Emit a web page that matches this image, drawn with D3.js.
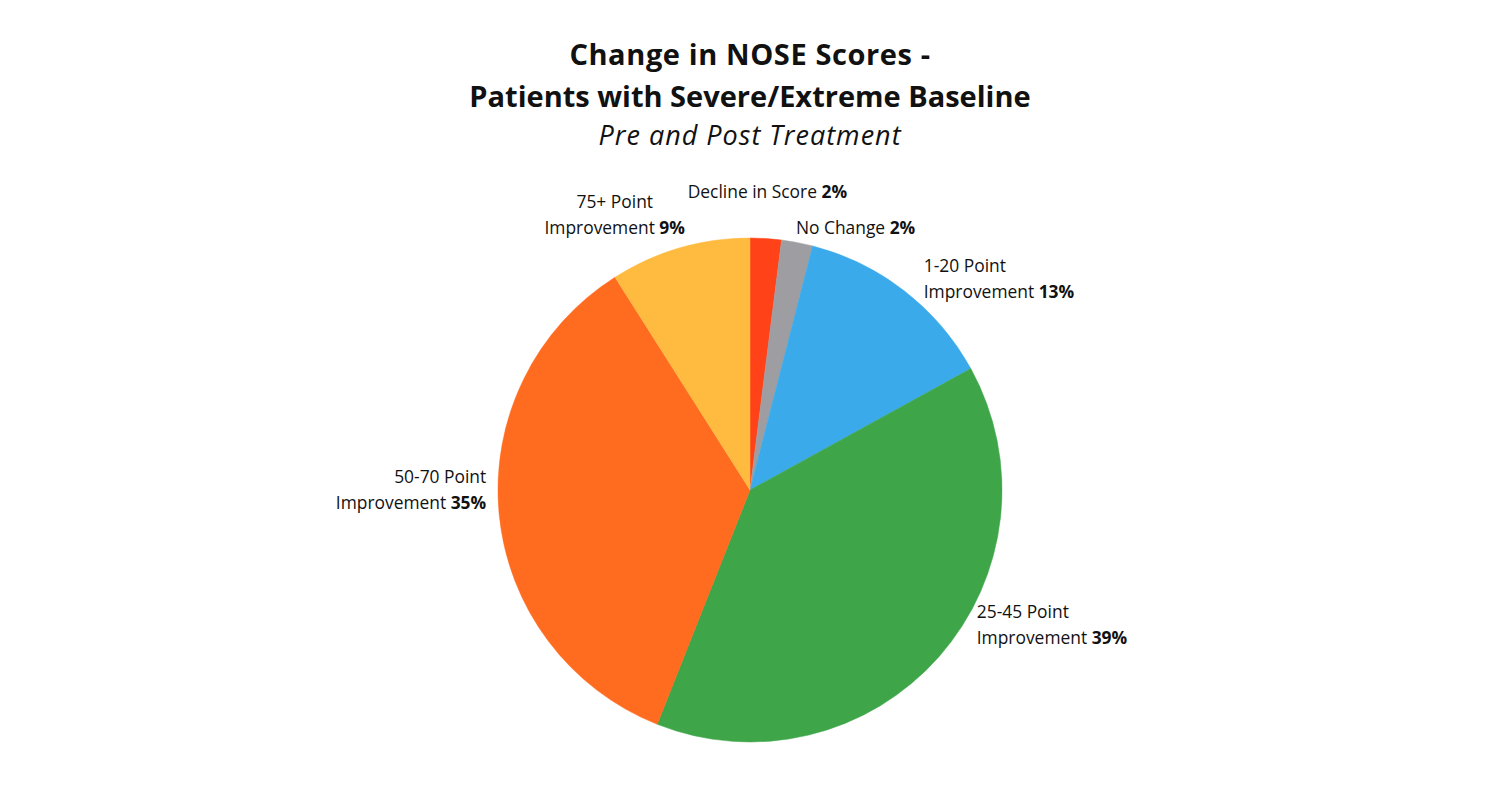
<!DOCTYPE html>
<html><head><meta charset="utf-8">
<script src="https://cdn.jsdelivr.net/npm/d3@7/dist/d3.min.js"></script>
<style>
html,body{margin:0;padding:0;background:#fff;}
svg{display:block;font-family:"Open Sans",Lato,sans-serif;}
</style></head>
<body>
<svg id="chart" width="1500" height="804"></svg>
<script>
// Data
const categories = ["Decline in Score", "No Change", "1-20 Point Improvement", "25-45 Point Improvement", "50-70 Point Improvement", "75+ Point Improvement"];
const labelLine1 = ["", "", "1-20 Point", "25-45 Point", "50-70 Point", "75+ Point"];
const labelLine2 = ["Decline in Score", "No Change", "Improvement", "Improvement", "Improvement", "Improvement"];
const values = [2, 2, 13, 39, 35, 9];
const colors = ["#FF4218", "#9E9EA2", "#3BAAEB", "#3EA649", "#FF6B1F", "#FFBB40"];

// Layout (label placement tweaks, not data)
const labelNudge = [[0,-21],[-6,10],[4,8],[19,-48],[12,-26],[-58,-9]];
const labelAnchor = ["middle","start","start","start","end","middle"];

const svg = d3.select("#chart");
const cx = 750, cy = 490, R = 252;

// Titles
svg.append("text").attr("x",750).attr("y",65).attr("text-anchor","middle")
  .attr("font-size",29).attr("font-weight",700).attr("letter-spacing",0.6).attr("fill","#111").text("Change in NOSE Scores -");
svg.append("text").attr("x",750).attr("y",107).attr("text-anchor","middle")
  .attr("font-size",29).attr("font-weight",700).attr("fill","#111").text("Patients with Severe/Extreme Baseline");
svg.append("text").attr("x",750).attr("y",145).attr("text-anchor","middle")
  .attr("font-size",27).attr("font-style","italic").attr("letter-spacing",1.0).attr("fill","#111").text("Pre and Post Treatment");

const pie = d3.pie().sort(null).value(d => d.v).startAngle(0).endAngle(2*Math.PI);
const data = values.map((v,i)=>({v, i}));
const arcs = pie(data);
const arc = d3.arc().innerRadius(0).outerRadius(R);

const g = svg.append("g").attr("transform",`translate(${cx},${cy})`);
g.selectAll("path").data(arcs).join("path")
  .attr("d", arc).attr("fill", d => colors[d.data.i])
  .attr("stroke", d => colors[d.data.i]).attr("stroke-width", 0.5);

const lineH = 26, fs = 17.4;
arcs.forEach(a => {
  const i = a.data.i;
  const mid = (a.startAngle + a.endAngle)/2;
  const r = R + 25;
  const px = Math.sin(mid)*r + labelNudge[i][0];
  const py = -Math.cos(mid)*r + labelNudge[i][1];
  const lines = labelLine1[i] ? 2 : 1;
  const t = g.append("text").attr("text-anchor", labelAnchor[i])
    .attr("font-size", fs).attr("fill","#111");
  const firstBase = py - (lines-1)*lineH/2 + 5.8;
  if (lines === 2) {
    t.append("tspan").attr("x",px).attr("y",firstBase).text(labelLine1[i]);
  }
  const sp = t.append("tspan").attr("x",px).attr("y",firstBase + (lines-1)*lineH);
  sp.append("tspan").text(labelLine2[i] + " ");
  sp.append("tspan").attr("font-weight",700).text(values[i] + "%");
});
</script>
</body></html>
